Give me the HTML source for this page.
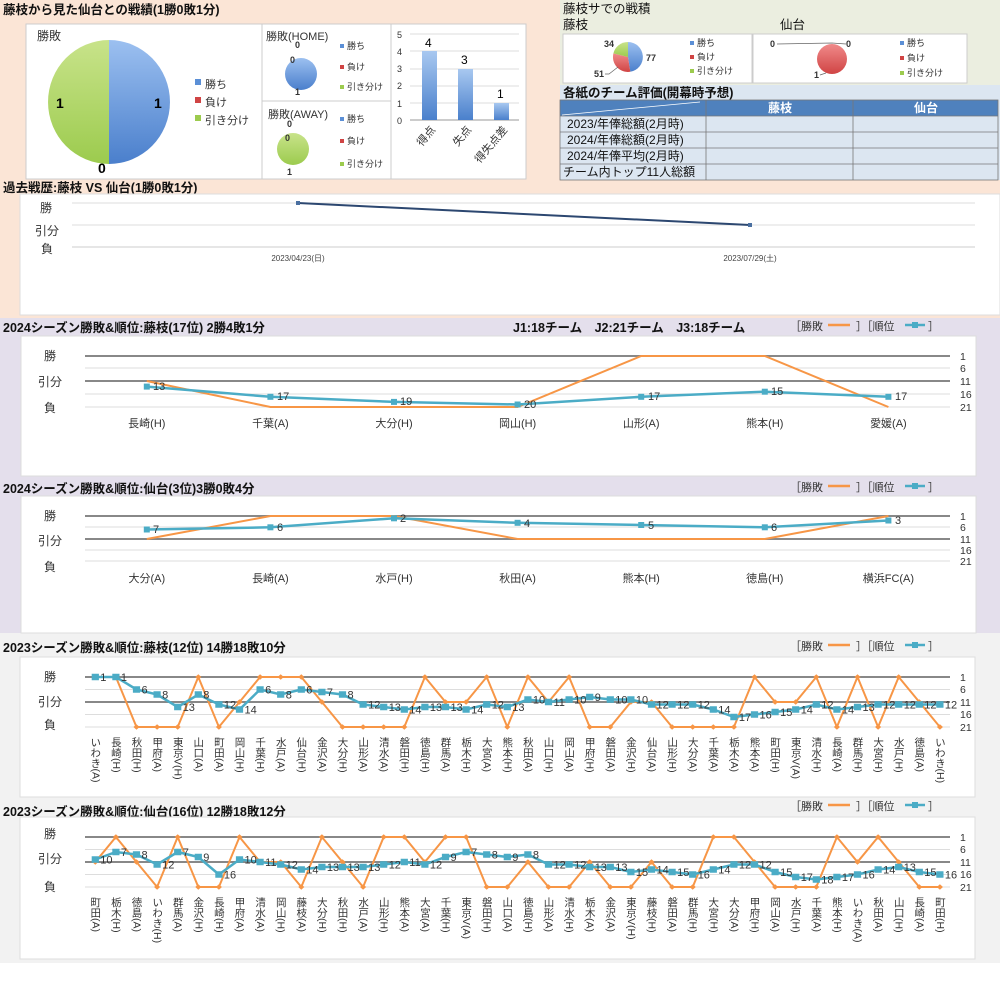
<!DOCTYPE html>
<html><head><meta charset="utf-8">
<style>
html,body{margin:0;padding:0;background:#fff;}
svg{display:block;font-family:"Liberation Sans","Noto Sans CJK JP",sans-serif;}
.t{font-size:12.5px;font-weight:bold;fill:#111;}
.s{font-size:11px;fill:#333;}
.sm{font-size:9px;fill:#333;}
.ax{font-size:12px;fill:#333;}
.rl{font-size:10.5px;fill:#333;}
.dl{font-size:11px;fill:#333;}
.vl{font-size:10.5px;fill:#333;writing-mode:vertical-rl;}
</style></head><body>
<svg width="1000" height="982" viewBox="0 0 1000 982" xmlns="http://www.w3.org/2000/svg">
<defs>
<linearGradient id="gb" x1="0" y1="0" x2="0" y2="1"><stop offset="0" stop-color="#9cc0f0"/><stop offset="1" stop-color="#4a7fcc"/></linearGradient>
<linearGradient id="gg" x1="0" y1="0" x2="0" y2="1"><stop offset="0" stop-color="#c8e38a"/><stop offset="1" stop-color="#9ccb4e"/></linearGradient>
<linearGradient id="gr" x1="0" y1="0" x2="0" y2="1"><stop offset="0" stop-color="#f08a8a"/><stop offset="1" stop-color="#d04444"/></linearGradient>
<linearGradient id="gbar" x1="0" y1="0" x2="0" y2="1"><stop offset="0" stop-color="#a8c8f0"/><stop offset="1" stop-color="#4a80cc"/></linearGradient>
<marker id="sq" markerUnits="userSpaceOnUse" markerWidth="0.35" markerHeight="2.6" refX="0.175" refY="1.3" overflow="visible"><rect width="0.35" height="2.6" fill="#4bacc6"/></marker>
<marker id="dm" markerUnits="userSpaceOnUse" markerWidth="0.3" markerHeight="2.2" refX="0.15" refY="1.1" overflow="visible"><path d="M0.15,0 L0.3,1.1 L0.15,2.2 L0,1.1Z" fill="#f79646"/></marker>
</defs>

<!-- backgrounds -->
<rect x="0" y="0" width="1000" height="318" fill="#fbe5d6"/>
<rect x="560" y="0" width="440" height="85" fill="#ebeee0"/>
<rect x="560" y="85" width="440" height="95" fill="#dce6f1"/>
<rect x="0" y="318" width="1000" height="315" fill="#e4dfec"/>
<rect x="0" y="633" width="1000" height="330" fill="#f2f2f2"/>
<rect x="0" y="963" width="1000" height="19" fill="#fff"/>

<!-- ===== Top left ===== -->
<text class="t" x="3" y="14">藤枝から見た仙台との戦績(1勝0敗1分)</text>
<rect x="26" y="24" width="500" height="155" fill="#fff" stroke="#ccc"/>
<line x1="262" y1="24" x2="262" y2="179" stroke="#ccc"/>
<line x1="391" y1="24" x2="391" y2="179" stroke="#ccc"/>
<line x1="262" y1="101" x2="391" y2="101" stroke="#ccc"/>
<text class="ax" x="37" y="40">勝敗</text>
<path d="M109,40 A61,62 0 0 1 109,164 Z" fill="url(#gb)"/>
<path d="M109,40 A61,62 0 0 0 109,164 Z" fill="url(#gg)"/>
<text x="56" y="108" font-size="14" font-weight="bold">1</text>
<text x="154" y="108" font-size="14" font-weight="bold">1</text>
<text x="98" y="173" font-size="14" font-weight="bold">0</text>
<rect x="195" y="79" width="6" height="6" fill="#5b8fd6"/><text class="s" x="205" y="88">勝ち</text>
<rect x="195" y="97" width="6" height="6" fill="#d04444"/><text class="s" x="205" y="106">負け</text>
<rect x="195" y="115" width="6" height="6" fill="#9ccb4e"/><text class="s" x="205" y="124">引き分け</text>

<text class="s" x="266" y="40">勝敗(HOME)</text>
<circle cx="301" cy="74" r="16" fill="url(#gb)"/>
<text class="sm" x="295" y="48" font-weight="bold">0</text>
<text class="sm" x="290" y="63" font-weight="bold">0</text>
<text class="sm" x="295" y="95" font-weight="bold">1</text>
<rect x="340" y="44" width="4" height="4" fill="#5b8fd6"/><text class="sm" x="347" y="49">勝ち</text>
<rect x="340" y="65" width="4" height="4" fill="#d04444"/><text class="sm" x="347" y="70">負け</text>
<rect x="340" y="85" width="4" height="4" fill="#9ccb4e"/><text class="sm" x="347" y="90">引き分け</text>

<text class="s" x="268" y="118">勝敗(AWAY)</text>
<circle cx="293" cy="149" r="16" fill="url(#gg)"/>
<text class="sm" x="287" y="127" font-weight="bold">0</text>
<text class="sm" x="285" y="141" font-weight="bold">0</text>
<text class="sm" x="287" y="175" font-weight="bold">1</text>
<rect x="340" y="117" width="4" height="4" fill="#5b8fd6"/><text class="sm" x="347" y="122">勝ち</text>
<rect x="340" y="139" width="4" height="4" fill="#d04444"/><text class="sm" x="347" y="144">負け</text>
<rect x="340" y="162" width="4" height="4" fill="#9ccb4e"/><text class="sm" x="347" y="167">引き分け</text>

<g stroke="#ddd">
<line x1="410" y1="34" x2="519" y2="34"/><line x1="410" y1="51" x2="519" y2="51"/><line x1="410" y1="69" x2="519" y2="69"/><line x1="410" y1="86" x2="519" y2="86"/><line x1="410" y1="103" x2="519" y2="103"/>
</g>
<line x1="410" y1="120" x2="519" y2="120" stroke="#999"/>
<g class="sm"><text x="397" y="38">5</text><text x="397" y="55">4</text><text x="397" y="72">3</text><text x="397" y="89">2</text><text x="397" y="107">1</text><text x="397" y="124">0</text></g>
<rect x="422" y="51" width="15" height="69" fill="url(#gbar)"/>
<rect x="458" y="69" width="15" height="51" fill="url(#gbar)"/>
<rect x="494" y="103" width="15" height="17" fill="url(#gbar)"/>
<text x="425" y="47" font-size="12">4</text><text x="461" y="64" font-size="12">3</text><text x="497" y="98" font-size="12">1</text>
<text class="s" transform="translate(436,130) rotate(-50)" text-anchor="end">得点</text>
<text class="s" transform="translate(472,130) rotate(-50)" text-anchor="end">失点</text>
<text class="s" transform="translate(508,130) rotate(-50)" text-anchor="end">得失点差</text>

<!-- ===== Top right ===== -->
<text class="t" x="563" y="13" style="font-weight:normal">藤枝サでの戦積</text>
<text class="t" x="563" y="29" style="font-weight:normal">藤枝</text>
<text class="t" x="780" y="29" style="font-weight:normal">仙台</text>
<rect x="563" y="34" width="189" height="49" fill="#fff" stroke="#ccc"/>
<rect x="753" y="34" width="214" height="49" fill="#fff" stroke="#ccc"/>
<path d="M628,57 L628,42 A15,15 0 0 1 630.3,71.8 Z" fill="url(#gb)"/>
<path d="M628,57 L630.3,71.8 A15,15 0 0 1 613.4,53.4 Z" fill="url(#gr)"/>
<path d="M628,57 L613.4,53.4 A15,15 0 0 1 628,42 Z" fill="url(#gg)"/>
<text class="sm" x="604" y="47" font-weight="bold">34</text>
<text class="sm" x="646" y="61" font-weight="bold">77</text>
<text class="sm" x="594" y="77" font-weight="bold">51</text>
<path d="M605,74 L609,74 L618,67" stroke="#666" fill="none" stroke-width="0.7"/>
<rect x="690" y="41" width="4" height="4" fill="#5b8fd6"/><text class="sm" x="697" y="46">勝ち</text>
<rect x="690" y="55" width="4" height="4" fill="#d04444"/><text class="sm" x="697" y="60">負け</text>
<rect x="690" y="69" width="4" height="4" fill="#9ccb4e"/><text class="sm" x="697" y="74">引き分け</text>
<circle cx="832" cy="59" r="15" fill="url(#gr)"/>
<text class="sm" x="770" y="47" font-weight="bold">0</text>
<text class="sm" x="846" y="47" font-weight="bold">0</text>
<text class="sm" x="814" y="78" font-weight="bold">1</text>
<path d="M777,44 L832,43 L846,44" stroke="#666" fill="none" stroke-width="0.7"/>
<path d="M820,75 L826,73" stroke="#666" fill="none" stroke-width="0.7"/>
<rect x="900" y="41" width="4" height="4" fill="#5b8fd6"/><text class="sm" x="907" y="46">勝ち</text>
<rect x="900" y="56" width="4" height="4" fill="#d04444"/><text class="sm" x="907" y="61">負け</text>
<rect x="900" y="71" width="4" height="4" fill="#9ccb4e"/><text class="sm" x="907" y="76">引き分け</text>

<text class="t" x="563" y="97">各紙のチーム評価(開幕時予想)</text>
<rect x="560" y="100" width="438" height="16" fill="#4f81bd"/>
<line x1="562" y1="115" x2="700" y2="102" stroke="#fff" stroke-width="0.8"/>
<text x="780" y="112" font-size="12" font-weight="bold" fill="#fff" text-anchor="middle">藤枝</text>
<text x="926" y="112" font-size="12" font-weight="bold" fill="#fff" text-anchor="middle">仙台</text>
<g fill="none" stroke="#777" stroke-width="0.8">
<rect x="560" y="100" width="438" height="80"/>
<line x1="706" y1="100" x2="706" y2="180"/><line x1="853" y1="100" x2="853" y2="180"/>
<line x1="560" y1="116" x2="998" y2="116"/><line x1="560" y1="132" x2="998" y2="132"/><line x1="560" y1="148" x2="998" y2="148"/><line x1="560" y1="164" x2="998" y2="164"/>
</g>
<g font-size="12" fill="#111">
<text x="567" y="128">2023/年俸総額(2月時)</text>
<text x="567" y="144">2024/年俸総額(2月時)</text>
<text x="567" y="160">2024/年俸平均(2月時)</text>
<text x="563" y="176">チーム内トップ11人総額</text>
</g>

<!-- ===== Past matches ===== -->
<text class="t" x="3" y="192">過去戦歴:藤枝 VS 仙台(1勝0敗1分)</text>
<rect x="20" y="194" width="980" height="121" fill="#fff" stroke="#ddd"/>
<g stroke="#ddd"><line x1="72" y1="203" x2="975" y2="203"/><line x1="72" y1="225" x2="975" y2="225"/></g>
<line x1="72" y1="247" x2="975" y2="247" stroke="#ccc"/>
<text class="ax" x="40" y="212">勝</text><text class="ax" x="35" y="235">引分</text><text class="ax" x="41" y="253">負</text>
<polyline points="298,203 750,225" fill="none" stroke="#2c4770" stroke-width="2"/>
<rect x="296" y="201" width="4" height="4" fill="#4a6fa0"/><rect x="748" y="223" width="4" height="4" fill="#4a6fa0"/>
<text x="298" y="261" font-size="8" fill="#444" text-anchor="middle">2023/04/23(日)</text>
<text x="750" y="261" font-size="8" fill="#444" text-anchor="middle">2023/07/29(土)</text>

<!-- ===== 2024 Fujieda ===== -->
<text class="t" x="3" y="332">2024シーズン勝敗&amp;順位:藤枝(17位) 2勝4敗1分</text>
<text class="t" x="513" y="332">J1:18チーム　J2:21チーム　J3:18チーム</text>
<text class="s" x="790" y="330" font-size="12">［勝敗 </text><line x1="828" y1="325" x2="850" y2="325" stroke="#f79646" stroke-width="2.5"/><text class="s" x="856" y="330" font-size="12">］［順位 </text><line x1="905" y1="325" x2="925" y2="325" stroke="#4bacc6" stroke-width="2.5"/><rect x="912" y="322" width="6" height="6" fill="#4bacc6"/><text class="s" x="928" y="330" font-size="12">］</text>
<rect x="21" y="336" width="955" height="140" fill="#fff" stroke="#ddd"/>
<g stroke="#ddd"><line x1="85" y1="368" x2="950" y2="368"/><line x1="85" y1="394" x2="950" y2="394"/><line x1="85" y1="407" x2="950" y2="407"/></g>
<g stroke="#888" stroke-width="2"><line x1="85" y1="356" x2="950" y2="356"/><line x1="85" y1="381" x2="950" y2="381"/></g>
<text class="ax" x="44" y="360">勝</text><text class="ax" x="38" y="386">引分</text><text class="ax" x="44" y="412">負</text>
<g class="rl"><text x="960" y="360">1</text><text x="960" y="372">6</text><text x="960" y="385">11</text><text x="960" y="398">16</text><text x="960" y="411">21</text></g>
<polyline points="146.8,381 270.4,407 394,407 517.6,407 641.2,356 764.8,356 888.4,407" fill="none" stroke="#f79646" stroke-width="2"/>
<polyline points="146.8,386.6 270.4,396.8 394,401.9 517.6,404.5 641.2,396.8 764.8,391.7 888.4,396.8" fill="none" stroke="#4bacc6" stroke-width="2.5"/>
<g fill="#4bacc6"><rect x="143.8" y="383.6" width="6" height="6"/><rect x="267.4" y="393.8" width="6" height="6"/><rect x="391" y="398.9" width="6" height="6"/><rect x="514.6" y="401.5" width="6" height="6"/><rect x="638.2" y="393.8" width="6" height="6"/><rect x="761.8" y="388.7" width="6" height="6"/><rect x="885.4" y="393.8" width="6" height="6"/></g>
<g class="dl"><text x="153" y="390">13</text><text x="277" y="400">17</text><text x="400" y="405">19</text><text x="524" y="408">20</text><text x="648" y="400">17</text><text x="771" y="395">15</text><text x="895" y="400">17</text></g>
<g class="s" text-anchor="middle"><text x="146.8" y="427">長崎(H)</text><text x="270.4" y="427">千葉(A)</text><text x="394" y="427">大分(H)</text><text x="517.6" y="427">岡山(H)</text><text x="641.2" y="427">山形(A)</text><text x="764.8" y="427">熊本(H)</text><text x="888.4" y="427">愛媛(A)</text></g>

<!-- ===== 2024 Sendai ===== -->
<text class="t" x="3" y="493">2024シーズン勝敗&amp;順位:仙台(3位)3勝0敗4分</text>
<text class="s" x="790" y="491" font-size="12">［勝敗 </text><line x1="828" y1="486" x2="850" y2="486" stroke="#f79646" stroke-width="2.5"/><text class="s" x="856" y="491" font-size="12">］［順位 </text><line x1="905" y1="486" x2="925" y2="486" stroke="#4bacc6" stroke-width="2.5"/><rect x="912" y="483" width="6" height="6" fill="#4bacc6"/><text class="s" x="928" y="491" font-size="12">］</text>
<rect x="21" y="496" width="955" height="137" fill="#fff" stroke="#ddd"/>
<g stroke="#ddd"><line x1="85" y1="527" x2="950" y2="527"/><line x1="85" y1="550" x2="950" y2="550"/><line x1="85" y1="561" x2="950" y2="561"/></g>
<g stroke="#888" stroke-width="2"><line x1="85" y1="516" x2="950" y2="516"/><line x1="85" y1="539" x2="950" y2="539"/></g>
<text class="ax" x="44" y="520">勝</text><text class="ax" x="38" y="545">引分</text><text class="ax" x="44" y="571">負</text>
<g class="rl"><text x="960" y="520">1</text><text x="960" y="531">6</text><text x="960" y="543">11</text><text x="960" y="554">16</text><text x="960" y="565">21</text></g>
<polyline points="146.8,539 270.4,516 394,516 517.6,539 641.2,539 764.8,539 888.4,516" fill="none" stroke="#f79646" stroke-width="2"/>
<polyline points="146.8,529.5 270.4,527.3 394,518.3 517.6,522.8 641.2,525 764.8,527.3 888.4,520.5" fill="none" stroke="#4bacc6" stroke-width="2.5"/>
<g fill="#4bacc6"><rect x="143.8" y="526.5" width="6" height="6"/><rect x="267.4" y="524.3" width="6" height="6"/><rect x="391" y="515.3" width="6" height="6"/><rect x="514.6" y="519.8" width="6" height="6"/><rect x="638.2" y="522" width="6" height="6"/><rect x="761.8" y="524.3" width="6" height="6"/><rect x="885.4" y="517.5" width="6" height="6"/></g>
<g class="dl"><text x="153" y="533">7</text><text x="277" y="531">6</text><text x="400" y="522">2</text><text x="524" y="527">4</text><text x="648" y="529">5</text><text x="771" y="531">6</text><text x="895" y="524">3</text></g>
<g class="s" text-anchor="middle"><text x="146.8" y="582">大分(A)</text><text x="270.4" y="582">長崎(A)</text><text x="394" y="582">水戸(H)</text><text x="517.6" y="582">秋田(A)</text><text x="641.2" y="582">熊本(H)</text><text x="764.8" y="582">徳島(H)</text><text x="888.4" y="582">横浜FC(A)</text></g>

<!-- ===== 2023 Fujieda ===== -->
<text class="t" x="3" y="652">2023シーズン勝敗&amp;順位:藤枝(12位) 14勝18敗10分</text>
<text class="s" x="790" y="650" font-size="12">［勝敗 </text><line x1="828" y1="645" x2="850" y2="645" stroke="#f79646" stroke-width="2.5"/><text class="s" x="856" y="650" font-size="12">］［順位 </text><line x1="905" y1="645" x2="925" y2="645" stroke="#4bacc6" stroke-width="2.5"/><rect x="912" y="642" width="6" height="6" fill="#4bacc6"/><text class="s" x="928" y="650" font-size="12">］</text>
<rect x="20" y="657" width="955" height="140" fill="#fff" stroke="#ddd"/>
<g stroke="#ddd"><line x1="85" y1="689.5" x2="950" y2="689.5"/><line x1="85" y1="714.5" x2="950" y2="714.5"/><line x1="85" y1="727" x2="950" y2="727"/></g>
<g stroke="#888" stroke-width="2"><line x1="85" y1="677" x2="950" y2="677"/><line x1="85" y1="702" x2="950" y2="702"/></g>
<text class="ax" x="44" y="681">勝</text><text class="ax" x="38" y="706">引分</text><text class="ax" x="44" y="729">負</text>
<g class="rl"><text x="960" y="681">1</text><text x="960" y="693">6</text><text x="960" y="706">11</text><text x="960" y="718">16</text><text x="960" y="731">21</text></g>
<g transform="translate(95.3,677) scale(20.6,2.5) translate(0,-1)">
<polyline vector-effect="non-scaling-stroke" fill="none" stroke="#f79646" stroke-width="2" marker-start="url(#dm)" marker-mid="url(#dm)" marker-end="url(#dm)" points="0,1 1,1 2,21 3,21 4,21 5,1 6,21 7,11 8,1 9,1 10,1 11,11 12,21 13,21 14,21 15,21 16,1 17,11 18,11 19,1 20,21 21,1 22,11 23,1 24,21 25,21 26,11 27,11 28,21 29,21 30,21 31,21 32,1 33,11 34,11 35,1 36,21 37,1 38,21 39,1 40,11 41,21"/>
<polyline vector-effect="non-scaling-stroke" fill="none" stroke="#4bacc6" stroke-width="2.5" marker-start="url(#sq)" marker-mid="url(#sq)" marker-end="url(#sq)" points="0,1 1,1 2,6 3,8 4,13 5,8 6,12 7,14 8,6 9,8 10,6 11,7 12,8 13,12 14,13 15,14 16,13 17,13 18,14 19,12 20,13 21,10 22,11 23,10 24,9 25,10 26,10 27,12 28,12 29,12 30,14 31,17 32,16 33,15 34,14 35,12 36,14 37,13 38,12 39,12 40,12 41,12"/>
</g>
<g class="dl">
<text x="100.3" y="681">1</text><text x="120.9" y="681">1</text><text x="141.5" y="693.5">6</text><text x="162.1" y="698.5">8</text><text x="182.7" y="711">13</text><text x="203.3" y="698.5">8</text><text x="223.9" y="708.5">12</text><text x="244.5" y="713.5">14</text><text x="265.1" y="693.5">6</text><text x="285.7" y="698.5">8</text><text x="306.3" y="693.5">6</text><text x="326.9" y="696">7</text><text x="347.5" y="698.5">8</text><text x="368.1" y="708.5">12</text><text x="388.7" y="711">13</text><text x="409.3" y="713.5">14</text><text x="429.9" y="711">13</text><text x="450.5" y="711">13</text><text x="471.1" y="713.5">14</text><text x="491.7" y="708.5">12</text><text x="512.3" y="711">13</text><text x="532.9" y="703.5">10</text><text x="553.5" y="706">11</text><text x="574.1" y="703.5">10</text><text x="594.7" y="701">9</text><text x="615.3" y="703.5">10</text><text x="635.9" y="703.5">10</text><text x="656.5" y="708.5">12</text><text x="677.1" y="708.5">12</text><text x="697.7" y="708.5">12</text><text x="718.3" y="713.5">14</text><text x="738.9" y="721">17</text><text x="759.5" y="718.5">16</text><text x="780.1" y="716">15</text><text x="800.7" y="713.5">14</text><text x="821.3" y="708.5">12</text><text x="841.9" y="713.5">14</text><text x="862.5" y="711">13</text><text x="883.1" y="708.5">12</text><text x="903.7" y="708.5">12</text><text x="924.3" y="708.5">12</text><text x="944.9" y="708.5">12</text>
</g>
<g class="vl">
<text x="95.3" y="737">いわき(A)</text><text x="115.9" y="737">長崎(H)</text><text x="136.5" y="737">秋田(H)</text><text x="157.1" y="737">甲府(A)</text><text x="177.7" y="737">東京V(H)</text><text x="198.3" y="737">山口(A)</text><text x="218.9" y="737">町田(A)</text><text x="239.5" y="737">岡山(H)</text><text x="260.1" y="737">千葉(H)</text><text x="280.7" y="737">水戸(A)</text><text x="301.3" y="737">仙台(H)</text><text x="321.9" y="737">金沢(A)</text><text x="342.5" y="737">大分(H)</text><text x="363.1" y="737">山形(A)</text><text x="383.7" y="737">清水(A)</text><text x="404.3" y="737">磐田(H)</text><text x="424.9" y="737">徳島(H)</text><text x="445.5" y="737">群馬(A)</text><text x="466.1" y="737">栃木(H)</text><text x="486.7" y="737">大宮(A)</text><text x="507.3" y="737">熊本(H)</text><text x="527.9" y="737">秋田(A)</text><text x="548.5" y="737">山口(H)</text><text x="569.1" y="737">岡山(A)</text><text x="589.7" y="737">甲府(H)</text><text x="610.3" y="737">磐田(A)</text><text x="630.9" y="737">金沢(H)</text><text x="651.5" y="737">仙台(A)</text><text x="672.1" y="737">山形(H)</text><text x="692.7" y="737">大分(A)</text><text x="713.3" y="737">千葉(A)</text><text x="733.9" y="737">栃木(A)</text><text x="754.5" y="737">熊本(A)</text><text x="775.1" y="737">町田(H)</text><text x="795.7" y="737">東京V(A)</text><text x="816.3" y="737">清水(H)</text><text x="836.9" y="737">長崎(A)</text><text x="857.5" y="737">群馬(H)</text><text x="878.1" y="737">大宮(H)</text><text x="898.7" y="737">水戸(H)</text><text x="919.3" y="737">徳島(A)</text><text x="939.9" y="737">いわき(H)</text>
</g>

<!-- ===== 2023 Sendai ===== -->
<text class="t" x="3" y="816">2023シーズン勝敗&amp;順位:仙台(16位) 12勝18敗12分</text>
<text class="s" x="790" y="810" font-size="12">［勝敗 </text><line x1="828" y1="805" x2="850" y2="805" stroke="#f79646" stroke-width="2.5"/><text class="s" x="856" y="810" font-size="12">］［順位 </text><line x1="905" y1="805" x2="925" y2="805" stroke="#4bacc6" stroke-width="2.5"/><rect x="912" y="802" width="6" height="6" fill="#4bacc6"/><text class="s" x="928" y="810" font-size="12">］</text>
<rect x="20" y="817" width="955" height="142" fill="#fff" stroke="#ddd"/>
<g stroke="#ddd"><line x1="85" y1="849.5" x2="950" y2="849.5"/><line x1="85" y1="874.5" x2="950" y2="874.5"/><line x1="85" y1="887" x2="950" y2="887"/></g>
<g stroke="#888" stroke-width="2"><line x1="85" y1="837" x2="950" y2="837"/><line x1="85" y1="862" x2="950" y2="862"/></g>
<text class="ax" x="44" y="838">勝</text><text class="ax" x="38" y="863">引分</text><text class="ax" x="44" y="891">負</text>
<g class="rl"><text x="960" y="841">1</text><text x="960" y="853">6</text><text x="960" y="866">11</text><text x="960" y="878">16</text><text x="960" y="891">21</text></g>
<g transform="translate(95.3,837) scale(20.6,2.5) translate(0,-1)">
<polyline vector-effect="non-scaling-stroke" fill="none" stroke="#f79646" stroke-width="2" marker-start="url(#dm)" marker-mid="url(#dm)" marker-end="url(#dm)" points="0,11 1,1 2,11 3,21 4,1 5,21 6,21 7,1 8,11 9,11 10,21 11,1 12,11 13,21 14,1 15,1 16,11 17,1 18,1 19,21 20,21 21,11 22,21 23,21 24,11 25,21 26,21 27,11 28,21 29,21 30,1 31,1 32,11 33,21 34,21 35,21 36,1 37,11 38,1 39,11 40,21 41,21"/>
<polyline vector-effect="non-scaling-stroke" fill="none" stroke="#4bacc6" stroke-width="2.5" marker-start="url(#sq)" marker-mid="url(#sq)" marker-end="url(#sq)" points="0,10 1,7 2,8 3,12 4,7 5,9 6,16 7,10 8,11 9,12 10,14 11,13 12,13 13,13 14,12 15,11 16,12 17,9 18,7 19,8 20,9 21,8 22,12 23,12 24,13 25,13 26,15 27,14 28,15 29,16 30,14 31,12 32,12 33,15 34,17 35,18 36,17 37,16 38,14 39,13 40,15 41,16"/>
</g>
<g class="dl">
<text x="100.3" y="863.5">10</text><text x="120.9" y="856">7</text><text x="141.5" y="858.5">8</text><text x="162.1" y="868.5">12</text><text x="182.7" y="856">7</text><text x="203.3" y="861">9</text><text x="223.9" y="878.5">16</text><text x="244.5" y="863.5">10</text><text x="265.1" y="866">11</text><text x="285.7" y="868.5">12</text><text x="306.3" y="873.5">14</text><text x="326.9" y="871">13</text><text x="347.5" y="871">13</text><text x="368.1" y="871">13</text><text x="388.7" y="868.5">12</text><text x="409.3" y="866">11</text><text x="429.9" y="868.5">12</text><text x="450.5" y="861">9</text><text x="471.1" y="856">7</text><text x="491.7" y="858.5">8</text><text x="512.3" y="861">9</text><text x="532.9" y="858.5">8</text><text x="553.5" y="868.5">12</text><text x="574.1" y="868.5">12</text><text x="594.7" y="871">13</text><text x="615.3" y="871">13</text><text x="635.9" y="876">15</text><text x="656.5" y="873.5">14</text><text x="677.1" y="876">15</text><text x="697.7" y="878.5">16</text><text x="718.3" y="873.5">14</text><text x="738.9" y="868.5">12</text><text x="759.5" y="868.5">12</text><text x="780.1" y="876">15</text><text x="800.7" y="881">17</text><text x="821.3" y="883.5">18</text><text x="841.9" y="881">17</text><text x="862.5" y="878.5">16</text><text x="883.1" y="873.5">14</text><text x="903.7" y="871">13</text><text x="924.3" y="876">15</text><text x="944.9" y="878.5">16</text>
</g>
<g class="vl">
<text x="95.3" y="897">町田(A)</text><text x="115.9" y="897">栃木(H)</text><text x="136.5" y="897">徳島(A)</text><text x="157.1" y="897">いわき(H)</text><text x="177.7" y="897">群馬(A)</text><text x="198.3" y="897">金沢(H)</text><text x="218.9" y="897">長崎(H)</text><text x="239.5" y="897">甲府(A)</text><text x="260.1" y="897">清水(A)</text><text x="280.7" y="897">岡山(H)</text><text x="301.3" y="897">藤枝(A)</text><text x="321.9" y="897">大分(H)</text><text x="342.5" y="897">秋田(H)</text><text x="363.1" y="897">水戸(A)</text><text x="383.7" y="897">山形(H)</text><text x="404.3" y="897">熊本(A)</text><text x="424.9" y="897">大宮(A)</text><text x="445.5" y="897">千葉(H)</text><text x="466.1" y="897">東京V(A)</text><text x="486.7" y="897">磐田(H)</text><text x="507.3" y="897">山口(A)</text><text x="527.9" y="897">徳島(H)</text><text x="548.5" y="897">山形(A)</text><text x="569.1" y="897">清水(H)</text><text x="589.7" y="897">栃木(A)</text><text x="610.3" y="897">金沢(A)</text><text x="630.9" y="897">東京V(H)</text><text x="651.5" y="897">藤枝(H)</text><text x="672.1" y="897">磐田(A)</text><text x="692.7" y="897">群馬(H)</text><text x="713.3" y="897">大宮(H)</text><text x="733.9" y="897">大分(A)</text><text x="754.5" y="897">甲府(H)</text><text x="775.1" y="897">岡山(A)</text><text x="795.7" y="897">水戸(H)</text><text x="816.3" y="897">千葉(A)</text><text x="836.9" y="897">熊本(H)</text><text x="857.5" y="897">いわき(A)</text><text x="878.1" y="897">秋田(A)</text><text x="898.7" y="897">山口(H)</text><text x="919.3" y="897">長崎(A)</text><text x="939.9" y="897">町田(H)</text>
</g>
</svg>
</body></html>
